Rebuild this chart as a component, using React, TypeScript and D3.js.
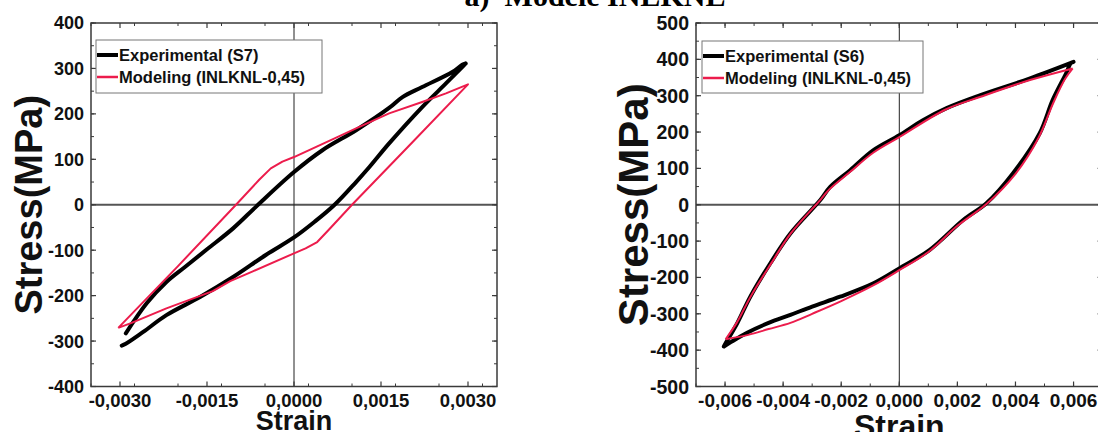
import React from "react";
import * as d3 from "d3";

// ---------- data ----------
// Left panel (S7)
const leftExpStrain = [
  -0.00297, -0.0029, -0.0026, -0.0022, -0.00162, -0.00105, -0.00048, 0, 0.00035, 0.0007,
  0.00107, 0.0013, 0.00164, 0.00221, 0.00262, 0.0029, 0.00296,
  0.0029, 0.00273, 0.00221, 0.00187, 0.00164, 0.00107, 0.00049, 0, -0.00062, -0.00105,
  -0.0015, -0.00188, -0.0022, -0.00254, -0.0029,
];
const leftExpStress = [
  -310, -306, -280, -243, -203, -159, -110, -72, -38, 0,
  50, 83, 135, 215, 267, 303, 311,
  308, 292, 259, 237, 213, 164, 120, 72, 0, -52,
  -98, -137, -170, -217, -283,
];
const leftModStrain = [
  -0.00303, -0.002, -0.001, -0.0006, -0.0004, -0.0002, 0, 0.0007, 0.00107, 0.00164, 0.00221, 0.00262, 0.003,
  0.002, 0.001, 0.0006, 0.0004, 0.0002, 0, -0.0007, -0.0011, -0.0014, -0.0022, -0.0028, -0.00303,
];
const leftModStress = [
  -271, -135, 0, 55, 80, 95, 105, 146, 168, 201, 226, 245, 265,
  132, 0, -55, -82, -96, -107, -146, -168, -190, -228, -260, -271,
];

// Right panel (S6)
const rightExpStrain = [
  -0.00604, -0.0058, -0.00524, -0.0045, -0.00375, -0.003, -0.00204, -0.00089, 0, 0.00105, 0.0022, 0.003,
  0.00391, 0.00483, 0.00528, 0.00574, 0.00591, 0.006,
  0.00448, 0.00277, 0.00163, 0.0008, 0, -0.00089, -0.00169, -0.00238, -0.00272, -0.00375, -0.00444,
  -0.00513, -0.00558, -0.00598, -0.00604,
];
const rightExpStress = [
  -390, -378, -352, -325, -303, -280, -253, -216, -175, -124, -42, 4,
  86, 196, 288, 361, 390, 393,
  347, 301, 266, 232, 191, 150, 95, 49, 13, -79, -161,
  -253, -326, -381, -390,
];
const rightModStrain = [
  -0.00598, -0.0052, -0.0045, -0.00375, -0.003, -0.002, -0.0009, 0, 0.001, 0.002, 0.003, 0.004, 0.0048, 0.0053, 0.0057, 0.00597,
  0.0045, 0.0028, 0.0016, 0, -0.0009, -0.0017, -0.0024, -0.0027, -0.00375, -0.0044, -0.0051, -0.0056, -0.00598,
];
const rightModStress = [
  -370, -358, -342, -325, -300, -265, -222, -180, -130, -58, 2, 85, 185, 280, 345, 375,
  343, 297, 262, 186, 143, 90, 43, 15, -80, -160, -250, -325, -370,
];

// ticks
const leftXTicks = [-0.003, -0.0015, 0, 0.0015, 0.003];
const leftXLabels = ["-0,0030", "-0,0015", "0,0000", "0,0015", "0,0030"];
const leftYTicks = [-400, -300, -200, -100, 0, 100, 200, 300, 400];
const leftYLabels = ["-400", "-300", "-200", "-100", "0", "100", "200", "300", "400"];
const rightXTicks = [-0.006, -0.004, -0.002, 0, 0.002, 0.004, 0.006];
const rightXLabels = ["-0,006", "-0,004", "-0,002", "0,000", "0,002", "0,004", "0,006"];
const rightYTicks = [-500, -400, -300, -200, -100, 0, 100, 200, 300, 400, 500];
const rightYLabels = ["-500", "-400", "-300", "-200", "-100", "0", "100", "200", "300", "400", "500"];

const leftLegend = ["Experimental (S7)", "Modeling (INLKNL-0,45)"];
const rightLegend = ["Experimental (S6)", "Modeling (INLKNL-0,45)"];
const titleText = "a)  Modele INLKNL";
const yTitle = "Stress(MPa)";
const xTitle = "Strain";

const RED = "#ec1c4c";
const SANS = "'Liberation Sans', Arial, sans-serif";

type Pt = [number, number];

function branches(pts: Pt[]): Pt[][] {
  let k = 0;
  pts.forEach((p, i) => {
    if (p[0] > pts[k][0]) k = i;
  });
  return [pts.slice(0, k + 1), pts.slice(k)];
}

type PanelProps = {
  x0: number; x1: number; y0: number; y1: number;
  xDomain: [number, number]; yDomain: [number, number];
  xTicks: number[]; xLabels: string[]; xMinorStep: number;
  yTicks: number[]; yLabels: string[]; yMinorStep: number;
  exp: [number[], number[]]; mod: [number[], number[]];
  smoothMod: boolean;
  legend: string[]; legendBox: [number, number, number, number];
  yFont: number; xFont: number; yTitleFont: number; yTitleX: number; xTitleFont: number; xTitleY: number;
  legendFont: number;
};

function Panel(p: PanelProps) {
  const xs = d3.scaleLinear().domain(p.xDomain).range([p.x0, p.x1]);
  const ys = d3.scaleLinear().domain(p.yDomain).range([p.y1, p.y0]);
  const smooth = d3.line<Pt>().x((d) => xs(d[0])).y((d) => ys(d[1])).curve(d3.curveCatmullRom.alpha(0.5));
  const straight = d3.line<Pt>().x((d) => xs(d[0])).y((d) => ys(d[1]));
  const expPts = p.exp[0].map((v, i) => [v, p.exp[1][i]] as Pt);
  const modPts = p.mod[0].map((v, i) => [v, p.mod[1][i]] as Pt);
  const expD = branches(expPts).map((b) => smooth(b) || "").join(" ");
  const modD = p.smoothMod ? branches(modPts).map((b) => smooth(b) || "").join(" ") : straight(modPts) || "";

  const xMinor: number[] = [];
  for (let v = p.xDomain[0]; v <= p.xDomain[1] + 1e-12; v += p.xMinorStep) xMinor.push(+v.toFixed(8));
  const yMinor: number[] = [];
  for (let v = p.yDomain[0]; v <= p.yDomain[1] + 1e-9; v += p.yMinorStep) yMinor.push(v);

  const frame = "#3a3a3a";
  const [lx0, ly0, lx1, ly1] = p.legendBox;
  return (
    <g>
      {/* zero lines */}
      <line x1={p.x0} x2={p.x1} y1={ys(0)} y2={ys(0)} stroke="#555" strokeWidth={1.8} />
      <line x1={xs(0)} x2={xs(0)} y1={p.y0} y2={p.y1} stroke="#222" strokeWidth={1} />
      {/* ticks */}
      {xMinor.map((v, i) => (
        <g key={"xm" + i}>
          <line x1={xs(v)} x2={xs(v)} y1={p.y1} y2={p.y1 - 3} stroke={frame} strokeWidth={1} />
          <line x1={xs(v)} x2={xs(v)} y1={p.y0} y2={p.y0 + 3} stroke={frame} strokeWidth={1} />
        </g>
      ))}
      {p.xTicks.map((v, i) => (
        <g key={"xt" + i}>
          <line x1={xs(v)} x2={xs(v)} y1={p.y1} y2={p.y1 - 5} stroke={frame} strokeWidth={1.2} />
          <line x1={xs(v)} x2={xs(v)} y1={p.y0} y2={p.y0 + 5} stroke={frame} strokeWidth={1.2} />
          <text x={xs(v)} y={p.y1 + 20.5} textAnchor="middle" fontFamily={SANS} fontWeight="bold" fontSize={p.xFont} fill="#111">
            {p.xLabels[i]}
          </text>
        </g>
      ))}
      {yMinor.map((v, i) => (
        <g key={"ym" + i}>
          <line x1={p.x0} x2={p.x0 + 3} y1={ys(v)} y2={ys(v)} stroke={frame} strokeWidth={1} />
          <line x1={p.x1} x2={p.x1 - 3} y1={ys(v)} y2={ys(v)} stroke={frame} strokeWidth={1} />
        </g>
      ))}
      {p.yTicks.map((v, i) => (
        <g key={"yt" + i}>
          <line x1={p.x0} x2={p.x0 + 5} y1={ys(v)} y2={ys(v)} stroke={frame} strokeWidth={1.2} />
          <line x1={p.x1} x2={p.x1 - 5} y1={ys(v)} y2={ys(v)} stroke={frame} strokeWidth={1.2} />
          <text x={p.x0 - 7} y={ys(v)} dy="0.36em" textAnchor="end" fontFamily={SANS} fontWeight="bold" fontSize={p.yFont} fill="#111">
            {p.yLabels[i]}
          </text>
        </g>
      ))}
      {/* data */}
      <path d={expD} fill="none" stroke="#000" strokeWidth={4} strokeLinejoin="round" strokeLinecap="round" />
      <path d={modD} fill="none" stroke={RED} strokeWidth={2} strokeLinejoin="round" />
      {/* frame */}
      <rect x={p.x0} y={p.y0} width={p.x1 - p.x0} height={p.y1 - p.y0} fill="none" stroke={frame} strokeWidth={1.5} />
      {/* legend */}
      <rect x={lx0} y={ly0} width={lx1 - lx0} height={ly1 - ly0} fill="#fff" stroke="#777" strokeWidth={1} />
      <line x1={lx0 + 1} x2={lx0 + 22} y1={ly0 + 15} y2={ly0 + 15} stroke="#000" strokeWidth={4} />
      <line x1={lx0 + 1} x2={lx0 + 22} y1={ly0 + 37} y2={ly0 + 37} stroke={RED} strokeWidth={2.5} />
      <text x={lx0 + 23} y={ly0 + 15} dy="0.36em" fontFamily={SANS} fontWeight="bold" fontSize={p.legendFont} fill="#111">
        {p.legend[0]}
      </text>
      <text x={lx0 + 23} y={ly0 + 37} dy="0.36em" fontFamily={SANS} fontWeight="bold" fontSize={p.legendFont} fill="#111">
        {p.legend[1]}
      </text>
      {/* axis titles */}
      <text
        transform={`translate(${p.yTitleX},${(p.y0 + p.y1) / 2}) rotate(-90)`}
        textAnchor="middle"
        fontFamily={SANS}
        fontWeight="bold"
        fontSize={p.yTitleFont}
        fill="#111"
      >
        {yTitle}
      </text>
      <text x={xs(0)} y={p.xTitleY} textAnchor="middle" fontFamily={SANS} fontWeight="bold" fontSize={p.xTitleFont} fill="#111">
        {xTitle}
      </text>
    </g>
  );
}

export default function App() {
  return (
    <svg
      width={1098}
      height={432}
      style={{ position: "absolute", left: 0, top: 0, background: "#fff" }}
    >
      <rect x={0} y={0} width={1098} height={432} fill="#fff" />
      <text x={595} y={6} textAnchor="middle" fontFamily="'Liberation Serif', 'Times New Roman', serif" fontWeight="bold" fontSize={30} fill="#000" xmlSpace="preserve" style={{ whiteSpace: "pre" }}>
        {titleText}
      </text>
      <Panel
        x0={91} x1={497} y0={23} y1={386.5}
        xDomain={[-0.0035, 0.0035]} yDomain={[-400, 400]}
        xTicks={leftXTicks} xLabels={leftXLabels} xMinorStep={0.00075}
        yTicks={leftYTicks} yLabels={leftYLabels} yMinorStep={50}
        exp={[leftExpStrain, leftExpStress]} mod={[leftModStrain, leftModStress]} smoothMod={false}
        legend={leftLegend} legendBox={[96, 40, 322, 93]}
        yFont={18} xFont={18.5} yTitleFont={38} yTitleX={42} xTitleFont={27} xTitleY={430}
        legendFont={16.5}
      />
      <Panel
        x0={696} x1={1102.6} y0={23} y1={386.5}
        xDomain={[-0.007, 0.007]} yDomain={[-500, 500]}
        xTicks={rightXTicks} xLabels={rightXLabels} xMinorStep={0.001}
        yTicks={rightYTicks} yLabels={rightYLabels} yMinorStep={50}
        exp={[rightExpStrain, rightExpStress]} mod={[rightModStrain, rightModStress]} smoothMod={true}
        legend={rightLegend} legendBox={[702, 41, 923, 93]}
        yFont={19.5} xFont={19} yTitleFont={42} yTitleX={648} xTitleFont={32} xTitleY={437}
        legendFont={16.5}
      />
    </svg>
  );
}
